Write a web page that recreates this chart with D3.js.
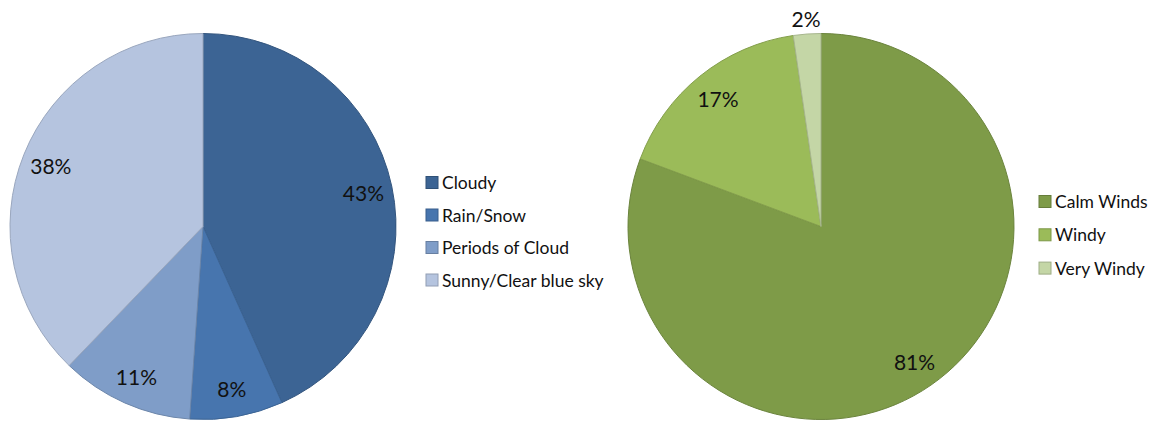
<!DOCTYPE html>
<html><head><meta charset="utf-8">
<script src="https://cdn.jsdelivr.net/npm/d3@7"></script>
<style>body{margin:0;background:#fff}svg{display:block}</style>
</head><body>
<svg id="c" width="1156" height="421"></svg>
<script>
const weatherCategories = ["Cloudy", "Rain/Snow", "Periods of Cloud", "Sunny/Clear blue sky"];
const weatherValues = [43.3, 7.8, 11.1, 37.8];
const weatherColors = ["#3C6494", "#4775AE", "#7F9DC8", "#B5C4DF"];
const windCategories = ["Calm Winds", "Windy", "Very Windy"];
const windValues = [80.7, 17.0, 2.3];
const windColors = ["#7E9B48", "#9BBB59", "#C4D6A6"];

const svg = d3.select("#c");
const font = "Lato, 'Open Sans', sans-serif";

function drawPie(cx, cy, r, cats, vals, cols, legendX, legendY, legendStep) {
  const g = svg.append("g").attr("transform", `translate(${cx},${cy})`);
  const pie = d3.pie().sort(null).value(d => d.v);
  const data = pie(cats.map((c, i) => ({c, v: vals[i], col: cols[i]})));
  const arc = d3.arc().innerRadius(0).outerRadius(r);
  g.selectAll("path").data(data).join("path")
    .attr("d", arc)
    .attr("fill", d => d.data.col)
    .attr("stroke", d => d3.color(d.data.col).darker(0.45))
    .attr("stroke-width", 1);
  const total = d3.sum(vals);
  const inArc = d3.arc().innerRadius(r * 0.85).outerRadius(r * 0.85);
  const outArc = d3.arc().innerRadius(r * 1.08).outerRadius(r * 1.08);
  g.selectAll("text").data(data).join("text")
    .attr("transform", d => {
      const frac = d.data.v / total;
      const p = (frac < 0.05 ? outArc : inArc).centroid(d);
      return `translate(${p[0]},${p[1]})`;
    })
    .attr("text-anchor", "middle")
    .attr("dominant-baseline", "central")
    .attr("font-family", font)
    .attr("font-size", 21)
    .attr("fill", "#111")
    .text(d => Math.round(d.data.v / total * 100) + "%");

  const lg = svg.append("g").attr("transform", `translate(${legendX},${legendY})`);
  const items = lg.selectAll("g").data(data).join("g")
    .attr("transform", (d, i) => `translate(0,${i * legendStep})`);
  items.append("rect").attr("x", 0).attr("y", -6).attr("width", 12).attr("height", 12)
    .attr("fill", d => d.data.col)
    .attr("stroke", d => d3.color(d.data.col).darker(0.6)).attr("stroke-width", 1);
  items.append("text").attr("x", 16).attr("y", 0)
    .attr("dominant-baseline", "central")
    .attr("font-family", font).attr("font-size", 17.5).attr("fill", "#111")
    .text(d => d.data.c);
}

drawPie(203, 226.5, 193, weatherCategories, weatherValues, weatherColors, 426, 182.5, 32.5);
drawPie(821, 226.5, 193, windCategories, windValues, windColors, 1039, 201.5, 33.3);
</script>
</body></html>
